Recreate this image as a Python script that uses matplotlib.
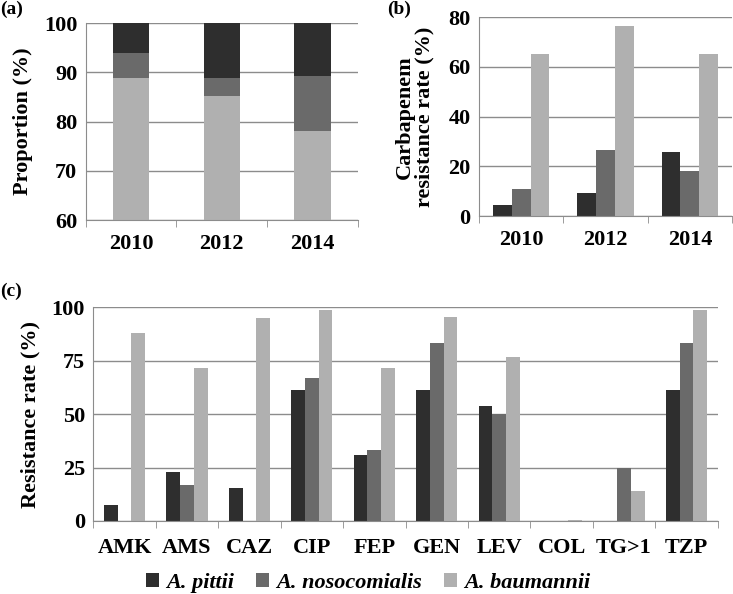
import matplotlib
matplotlib.use("Agg")
import matplotlib.pyplot as plt
import numpy as np
from matplotlib.patches import Patch

plt.rcParams['font.family'] = ['Liberation Serif', 'DejaVu Serif']
plt.rcParams['font.weight'] = 'bold'

species = ["A. pittii", "A. nosocomialis", "A. baumannii"]
colors = ["#2e2e2e", "#6a6a6a", "#b0b0b0"]

years = ["2010", "2012", "2014"]
# Panel (a): proportions (stacked: baumannii bottom, nosocomialis middle, pittii top)
prop_pittii = [6.1, 11.1, 10.7]
prop_noso = [5.0, 3.7, 11.3]
prop_baum = [88.9, 85.2, 78.0]

# Panel (b): carbapenem resistance rate
carb_pittii = [4.4, 9.4, 25.8]
carb_noso = [11.0, 26.6, 18.1]
carb_baum = [65.2, 76.5, 65.2]

# Panel (c): resistance rates by antibiotic
drugs = ["AMK", "AMS", "CAZ", "CIP", "FEP", "GEN", "LEV", "COL", "TG>1", "TZP"]
res_pittii = [7.7, 23.1, 15.4, 61.5, 30.8, 61.5, 53.8, 0, 0, 61.5]
res_noso = [0, 16.7, 0, 66.7, 33.3, 83.3, 50.0, 0, 25.0, 83.3]
res_baum = [87.8, 71.7, 95.1, 98.6, 71.7, 95.5, 76.9, 0.3, 14.2, 98.6]

W, H = 733, 594
fig = plt.figure(figsize=(W / 100, H / 100), dpi=100)

def ax_px(l, r, t, b):
    return fig.add_axes([l / W, 1 - b / H, (r - l) / W, (b - t) / H])

grid_c = "#8c8c8c"
fs = 16

def style(ax, n, xpad=10):
    for s in ["top", "right"]:
        ax.spines[s].set_visible(False)
    ax.spines["left"].set_color(grid_c)
    ax.spines["bottom"].set_color(grid_c)
    ax.yaxis.grid(True, color=grid_c, linewidth=1)
    ax.set_axisbelow(True)
    ax.set_xlim(-0.5, n - 0.5)
    ax.tick_params(axis="y", length=0, labelsize=fs, pad=6)
    ax.tick_params(axis="x", which="major", length=0, labelsize=fs, pad=xpad)
    ax.set_xticks(np.arange(-0.5, n, 1.0), minor=True)
    ax.tick_params(axis="x", which="minor", length=5, color=grid_c, direction="out")
    for lab in ax.get_xticklabels() + ax.get_yticklabels():
        lab.set_fontweight("bold")

# (a)
axa = ax_px(85.7, 358, 23.3, 220)
x = np.arange(len(years))
bottom0 = np.zeros(len(years))
axa.bar(x, prop_baum, width=0.4, color=colors[2], bottom=bottom0)
axa.bar(x, prop_noso, width=0.4, color=colors[1], bottom=np.array(prop_baum))
axa.bar(x, prop_pittii, width=0.4, color=colors[0],
        bottom=np.array(prop_baum) + np.array(prop_noso))
axa.set_ylim(60, 100)
axa.set_yticks([60, 70, 80, 90, 100])
axa.set_xticks(x)
axa.set_xticklabels(years)
style(axa, len(years))
axa.set_ylabel("Proportion (%)", fontsize=fs, fontweight="bold", labelpad=8)

# (b)
axb = ax_px(479, 732, 17.3, 216)
bw = 0.222
for k, vals in enumerate([carb_pittii, carb_noso, carb_baum]):
    axb.bar(x + (k - 1) * bw, vals, width=bw, color=colors[k])
axb.set_ylim(0, 80)
axb.set_yticks([0, 20, 40, 60, 80])
axb.set_xticks(x)
axb.set_xticklabels(years)
style(axb, len(years))
axb.set_ylabel("Carbapenem\nresistance rate (%)", fontsize=fs, fontweight="bold",
               labelpad=10, linespacing=0.95)

# (c)
axc = ax_px(93.3, 717.7, 307.3, 521)
xc = np.arange(len(drugs))
bw = 0.22
for k, vals in enumerate([res_pittii, res_noso, res_baum]):
    axc.bar(xc + (k - 1) * bw, vals, width=bw, color=colors[k])
axc.set_ylim(0, 100)
axc.set_yticks([0, 25, 50, 75, 100])
axc.set_xticks(xc)
axc.set_xticklabels(drugs)
style(axc, len(drugs), xpad=12)
axc.set_ylabel("Resistance rate (%)", fontsize=fs, fontweight="bold", labelpad=8)

# panel labels
fig.text(0 / W, 1 - 1 / H, "(a)", fontsize=14, fontweight="bold", va="top", ha="left")
fig.text(387 / W, 1 - 1 / H, "(b)", fontsize=14, fontweight="bold", va="top", ha="left")
fig.text(0 / W, 1 - 283 / H, "(c)", fontsize=14, fontweight="bold", va="top", ha="left")

handles = [Patch(facecolor=c, edgecolor="none") for c in colors]
leg = fig.legend(handles, species, loc="center", bbox_to_anchor=(368 / W, 1 - 583 / H),
                 ncol=3, frameon=False, handlelength=0.6, handleheight=0.6,
                 handletextpad=0.3, columnspacing=1.0,
                 prop={"family": "Liberation Serif", "weight": "bold",
                       "style": "italic", "size": 16})

fig.savefig("out.png", dpi=100)
